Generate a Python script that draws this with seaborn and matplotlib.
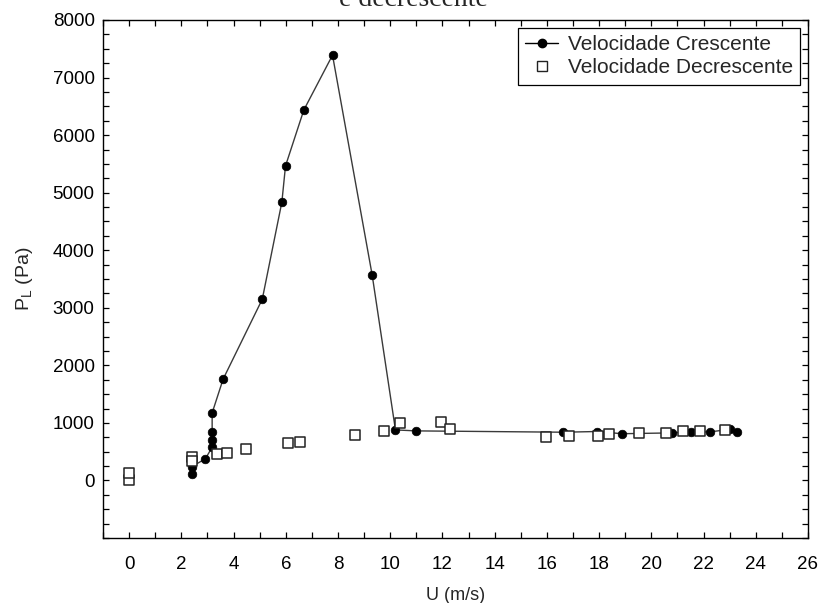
import matplotlib
matplotlib.use("Agg")
import matplotlib.pyplot as plt
import seaborn as sns
import pandas as pd
from matplotlib.lines import Line2D
from matplotlib.ticker import MultipleLocator

# Velocidade Crescente (ordered along the measurement path)
u_cresc = [2.39, 2.39, 2.92, 3.18, 3.18, 3.18, 3.18, 3.60, 5.10, 5.85, 5.99,
           6.69, 7.79, 9.31, 10.20, 10.99, 16.63, 17.90, 18.88, 20.78, 21.50,
           22.24, 23.03, 23.27]
p_cresc = [104, 237, 376, 577, 710, 843, 1173, 1760, 3149, 4835, 5465,
           6435, 7389, 3565, 878, 861, 838, 850, 812, 826, 843,
           843, 890, 843]

# Velocidade Decrescente
u_decr = [0.0, 0.0, 2.39, 2.39, 3.38, 3.76, 4.47, 6.07, 6.54, 8.64, 9.77,
          10.39, 11.96, 12.28, 15.98, 16.86, 17.95, 18.38, 19.53, 20.55,
          21.21, 21.86, 22.82]
p_decr = [5, 125, 410, 344, 468, 485, 543, 659, 676, 785, 866,
          1000, 1017, 901, 751, 774, 774, 814, 826, 832,
          866, 861, 884]

x_ticks = list(range(0, 27, 2))
y_ticks = list(range(0, 8001, 1000))

df_c = pd.DataFrame({"U": u_cresc, "P": p_cresc})
df_d = pd.DataFrame({"U": u_decr, "P": p_decr})

sns.set_style("ticks")
plt.rcParams["font.family"] = ["Liberation Sans", "DejaVu Sans"]
plt.rcParams["mathtext.fontset"] = "custom"
plt.rcParams["mathtext.rm"] = "Liberation Sans"

fig = plt.figure(figsize=(8.21, 6.03), dpi=100)
ax = fig.add_axes([103 / 821, 1 - 538 / 603, (808 - 103) / 821, (538 - 20) / 603])

sns.lineplot(data=df_c, x="U", y="P", ax=ax, sort=False, estimator=None,
             color="#3a3a3a", linewidth=1.0, marker="o", markersize=6.2,
             markerfacecolor="black", markeredgecolor="black",
             markeredgewidth=0.5)
sns.scatterplot(data=df_d, x="U", y="P", ax=ax, marker="s", s=62,
                facecolor="white", edgecolor="#222222", linewidth=1.1,
                zorder=3)

ax.set_xlim(-1, 26)
ax.set_ylim(-1000, 8000)
ax.set_xticks(x_ticks)
ax.set_yticks(y_ticks)
ax.xaxis.set_minor_locator(MultipleLocator(1))
ax.yaxis.set_minor_locator(MultipleLocator(250))
ax.tick_params(which="both", direction="in", top=True, right=True,
               length=4, width=0.9, labelsize=13.5, colors="black")
ax.tick_params(axis="x", pad=13)
ax.tick_params(axis="y", pad=6)
for sp in ax.spines.values():
    sp.set_visible(True)
    sp.set_linewidth(1.0)
    sp.set_color("black")

ax.set_xlabel("U (m/s)", fontsize=13, labelpad=10)
ax.set_ylabel(r"P$_\mathregular{L}$ (Pa)", fontsize=14, labelpad=13)

handles = [
    Line2D([0], [0], color="black", linewidth=1.0, marker="o", markersize=6,
           markerfacecolor="black", markeredgecolor="black"),
    Line2D([0], [0], linestyle="none", marker="s", markersize=6.5,
           markerfacecolor="white", markeredgecolor="#222222",
           markeredgewidth=1.0),
]
leg = ax.legend(handles, ["Velocidade Crescente", "Velocidade Decrescente"],
                loc="upper right", bbox_to_anchor=(0.989, 0.985), fontsize=15,
                frameon=True, fancybox=False, edgecolor="black",
                framealpha=1, handlelength=1.6, handletextpad=0.45,
                borderpad=0.35, labelspacing=0.2, borderaxespad=0.0)
leg.get_frame().set_linewidth(0.9)

fig.text(0.503, 1.0 - 6 / 603, "e decrescente", ha="center", va="baseline",
         fontsize=20, family=["Liberation Serif", "DejaVu Serif"])

fig.savefig("out.png", dpi=100)
